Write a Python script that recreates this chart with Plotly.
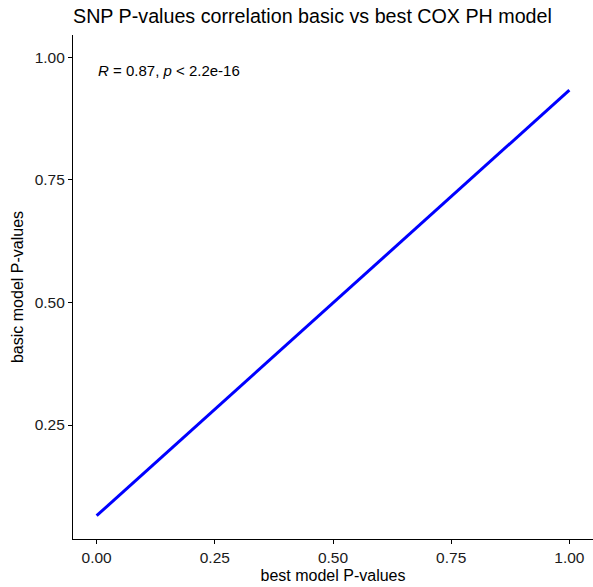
import plotly.graph_objects as go

# Fitted regression line: best model P-values (x) vs basic model P-values (y)
best_pvalues = [0.0, 1.0]
basic_fit = [0.065, 0.933]

# Correlation statistics shown in the corner label
r_value = "0.87"
p_value = "2.2e-16"

x_ticks = [0.00, 0.25, 0.50, 0.75, 1.00]
y_ticks = [0.25, 0.50, 0.75, 1.00]

FONT = "Liberation Sans, Arial, Helvetica, sans-serif"

fig = go.Figure()
fig.add_trace(go.Scatter(
    x=best_pvalues, y=basic_fit, mode="lines",
    line=dict(color="#0000FF", width=3),
    showlegend=False, hoverinfo="skip",
))

fig.add_annotation(
    x=0.0, y=0.974, xref="x", yref="y",
    text=f"<i>R</i> = {r_value}, <i>p</i> < {p_value}",
    showarrow=False, xanchor="left", yanchor="middle", xshift=-1,
    font=dict(family=FONT, size=15, color="black"),
)

axis_common = dict(
    showgrid=False, zeroline=False,
    showline=True, linecolor="black", linewidth=1.2,
    ticks="outside", ticklen=4, tickwidth=1.2, tickcolor="black",
    tickfont=dict(family=FONT, size=15.5, color="#1a1a1a"),
    mirror=False,
)

fig.update_xaxes(
    range=[-0.05, 1.05], tickvals=x_ticks,
    ticktext=[f"{v:.2f}" for v in x_ticks],
    title=dict(text="best model P-values", standoff=5,
               font=dict(family=FONT, size=16, color="black")),
    **axis_common,
)
fig.update_yaxes(
    range=[0.0175, 1.0455], tickvals=y_ticks,
    ticktext=[f"{v:.2f}" for v in y_ticks],
    title=dict(text="basic model P-values", standoff=7,
               font=dict(family=FONT, size=16, color="black")),
    **axis_common,
)

fig.update_layout(
    width=593, height=587,
    margin=dict(l=73, r=0, t=35, b=48),
    paper_bgcolor="white", plot_bgcolor="white",
    title=dict(
        text="SNP P-values correlation basic vs best COX PH model",
        x=73 / 593, xanchor="left", y=1 - 16.5 / 587, yanchor="middle",
        font=dict(family=FONT, size=19.7, color="black"),
    ),
)

fig.write_html("out.html")
